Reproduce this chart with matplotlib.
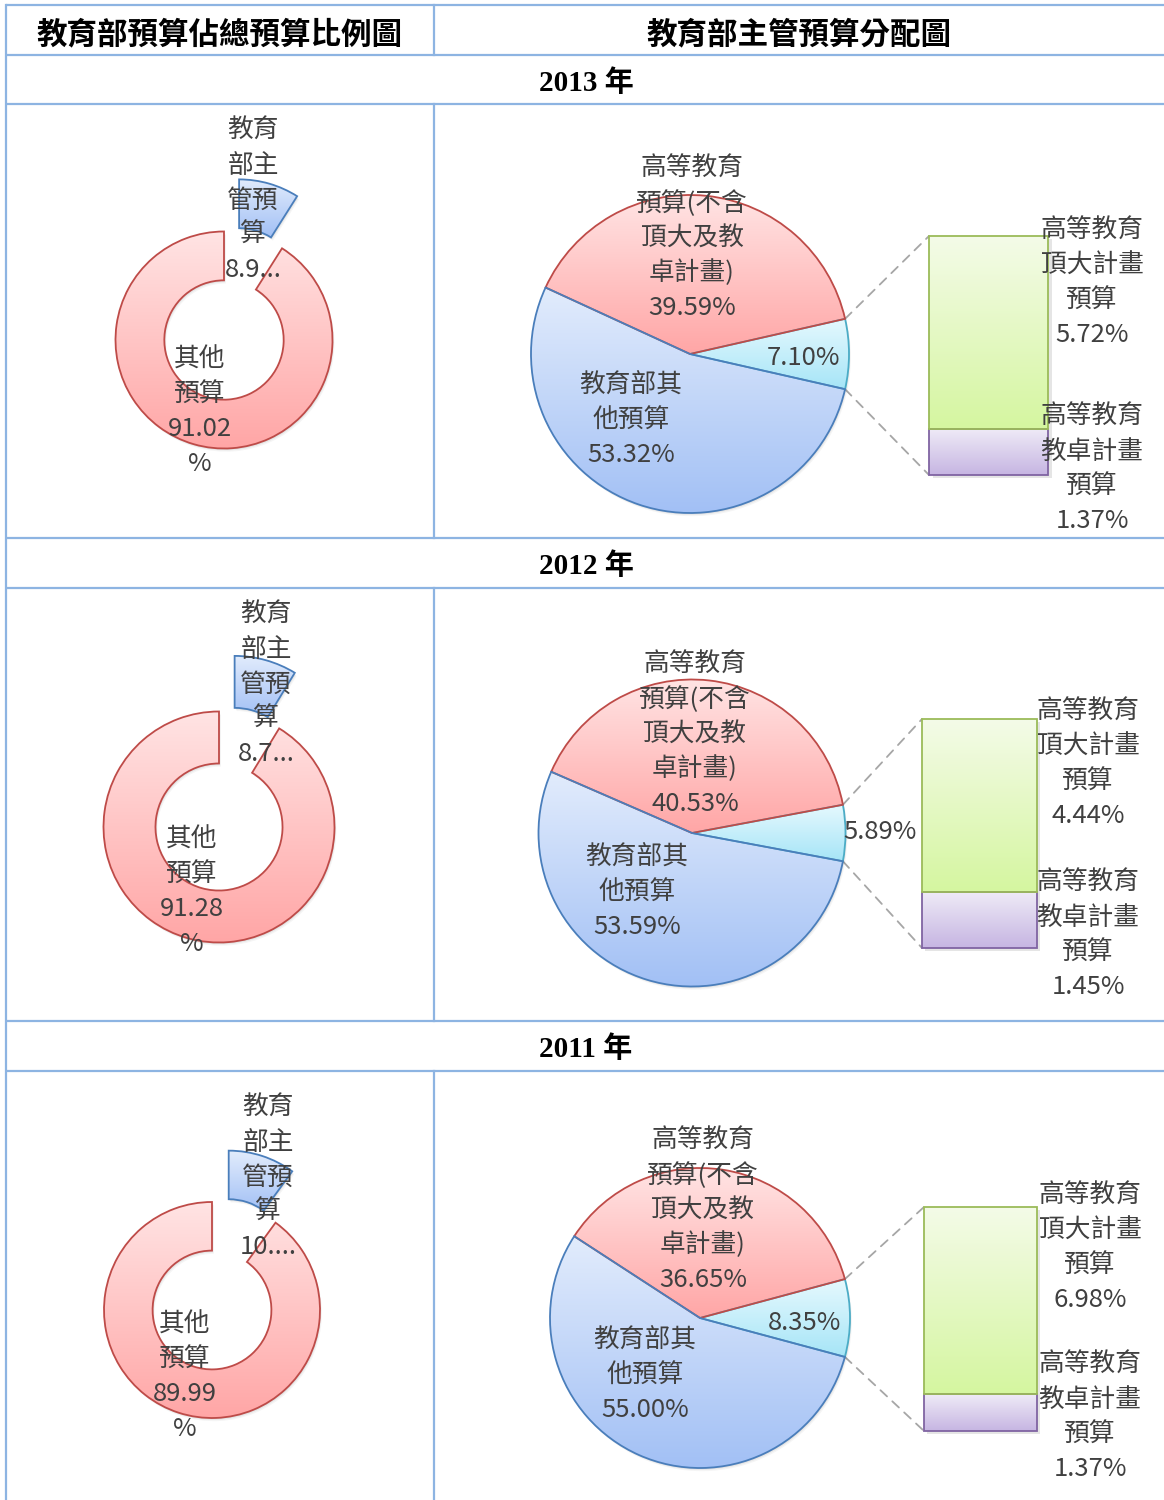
import numpy as np
import matplotlib
matplotlib.use("Agg")
import matplotlib.pyplot as plt
from matplotlib.colors import LinearSegmentedColormap
from matplotlib.patches import ConnectionPatch, PathPatch
from matplotlib.transforms import Affine2D

plt.rcParams['font.family'] = ['Noto Sans CJK TC', 'DejaVu Sans']

# ---------------- data ----------------
years = ["2013", "2012", "2011"]
moe_share = [8.98, 8.72, 10.01]        # 教育部主管預算 (% of total budget)
other_share = [91.02, 91.28, 89.99]    # 其他預算
higher_ed = [39.59, 40.53, 36.65]      # 高等教育預算(不含頂大及教卓計畫)
moe_other = [53.32, 53.59, 55.00]      # 教育部其他預算
higher_plan = [7.10, 5.89, 8.35]       # 頂大 + 教卓 (secondary slice)
top_univ = [5.72, 4.44, 6.98]          # 高等教育頂大計畫預算
teach_excel = [1.37, 1.45, 1.37]       # 高等教育教卓計畫預算

header_left = "教育部預算佔總預算比例圖"
header_right = "教育部主管預算分配圖"
donut_moe_rows = ["教育", "部主", "管預", "算"]
donut_other_rows = ["其他", "預算"]
pie_he_rows = ["高等教育", "預算(不含", "頂大及教", "卓計畫)"]
pie_other_rows = ["教育部其", "他預算"]
bar_top_rows = ["高等教育", "頂大計畫", "預算"]
bar_bot_rows = ["高等教育", "教卓計畫", "預算"]

# ---------------- layout (pixels) ----------------
W, H = 1164, 1500
DY = 3  # vertical text nudge
year_y = [80, 563, 1046]
donut_geo = [(224, 340, 108.5), (219, 827, 115.5), (212, 1310, 108)]
pie_geo = [(690, 354, 159), (692, 833, 153.5), (700, 1318, 150)]
bar_geo = [(929, 236, 1048, 475), (922, 719, 1037, 948), (924, 1207, 1037, 1431)]
donut_moe_lab = [(253, 128), (266, 612), (268, 1105)]
donut_oth_lab = [(200, 357), (192, 837), (185, 1322)]
pie_he_lab = [(692, 166), (695, 662), (703, 1138)]
pie_oth_lab = [(631, 383), (637, 855), (645, 1338)]
pie_plan_lab = [(803, 355), (880, 829), (805, 1320)]
bar_top_lab = [(1092, 228), (1088, 709), (1090, 1193)]
bar_bot_lab = [(1092, 414), (1088, 880), (1090, 1362)]
STEP = 34.7

RED = ('#FFE4E4', '#FFA6A6', '#BE4B48')
BLUE = ('#E2ECFC', '#A2C0F5', '#4A7EBB')
CYAN = ('#E6F9FE', '#A6E5F7', '#4BACC6')
GREEN = ('#F4FBE8', '#D5F6A0', '#9BBB59')
PURPLE = ('#EFEBF7', '#C6B5E2', '#8064A2')
TXT = '#404040'
GRID = '#8DB4E2'

fig = plt.figure(figsize=(W / 100, H / 100), dpi=100)
fig.patch.set_facecolor('white')


def ax_px(x0, y0, x1, y1, z=1):
    a = fig.add_axes([x0 / W, 1 - y1 / H, (x1 - x0) / W, (y1 - y0) / H], zorder=z)
    a.set_axis_off()
    return a


over = ax_px(0, 0, W, H, z=10)
over.set_xlim(0, W)
over.set_ylim(H, 0)


def gfill(ax, patch, style, lw=1.3):
    ctop, cbot, ec = style
    bb = patch.get_path().get_extents(patch.get_patch_transform())
    cmap = LinearSegmentedColormap.from_list('g', [ctop, cbot])
    im = ax.imshow(np.linspace(0, 1, 256)[:, None], cmap=cmap,
                   extent=[bb.x0, bb.x1, bb.y0, bb.y1], origin='upper',
                   aspect='auto', interpolation='bilinear',
                   zorder=patch.get_zorder() - 0.5)
    im.set_clip_path(patch)
    patch.set_facecolor('none')
    patch.set_edgecolor(ec)
    patch.set_linewidth(lw)


def shadow(ax, patch, unit):
    for k, a in [(1.0, 0.06), (2.0, 0.05), (3.2, 0.04)]:
        sp = PathPatch(patch.get_path(),
                       transform=patch.get_patch_transform()
                       + Affine2D().translate(k * unit * 0.6, -k * unit) + ax.transData,
                       fc='black', ec='none', alpha=a, zorder=patch.get_zorder() - 2)
        ax.add_patch(sp)


def rows(x, y0, texts, size=18.5, color=TXT):
    for k, t in enumerate(texts):
        over.text(x, y0 + DY + k * STEP, t, ha='center', va='center',
                  fontsize=size, color=color)


def trunc(v):
    s = f"{v:.2f}%"
    return s[:3] + "..."


# ---------------- table ----------------
for y in [5, 55, 104, 538, 588, 1021, 1071]:
    over.plot([6, W], [y, y], color=GRID, lw=1.6, solid_capstyle='butt')
over.plot([6, 6], [5, H], color=GRID, lw=1.6)
for y0, y1 in [(5, 55), (104, 538), (588, 1021), (1071, H)]:
    over.plot([434, 434], [y0, y1], color=GRID, lw=1.6)

over.text(219, 31 + DY, header_left, ha='center', va='center', fontsize=22,
          fontweight='bold', color='black')
over.text(799, 31 + DY, header_right, ha='center', va='center', fontsize=22,
          fontweight='bold', color='black')

for i, yr in enumerate(years):
    over.text(586, year_y[i] + DY, f"{yr} 年", ha='center', va='center', fontsize=21,
              fontweight='bold', color='black',
              family=['Liberation Serif', 'Noto Sans CJK TC'])

    # ---- donut ----
    cx, cy, r = donut_geo[i]
    s = 1.7
    ax = ax_px(cx - s * r, cy - s * r, cx + s * r, cy + s * r, z=2)
    wedges, _ = ax.pie([moe_share[i], other_share[i]], startangle=90,
                       counterclock=False, explode=[0.5, 0], radius=1,
                       wedgeprops=dict(width=0.45))
    for w, st in zip(wedges, [BLUE, RED]):
        shadow(ax, w, 1.0 / r)
        gfill(ax, w, st)
    ax.set_xlim(-s, s)
    ax.set_ylim(-s, s)
    x, y = donut_moe_lab[i]
    rows(x, y, donut_moe_rows + [trunc(moe_share[i])])
    x, y = donut_oth_lab[i]
    rows(x, y, donut_other_rows + [f"{other_share[i]:.2f}", "%"])

    # ---- pie ----
    cx, cy, r = pie_geo[i]
    s = 1.15
    axp = ax_px(cx - s * r, cy - s * r, cx + s * r, cy + s * r, z=2)
    pw, _ = axp.pie([higher_plan[i], higher_ed[i], moe_other[i]],
                    startangle=-higher_plan[i] * 1.8, counterclock=True, radius=1)
    for w, st in zip(pw, [CYAN, RED, BLUE]):
        shadow(axp, w, 1.0 / r)
        gfill(axp, w, st)
    axp.set_xlim(-s, s)
    axp.set_ylim(-s, s)
    x, y = pie_he_lab[i]
    rows(x, y, pie_he_rows + [f"{higher_ed[i]:.2f}%"])
    x, y = pie_oth_lab[i]
    rows(x, y, pie_other_rows + [f"{moe_other[i]:.2f}%"])
    x, y = pie_plan_lab[i]
    rows(x, y, [f"{higher_plan[i]:.2f}%"])

    # ---- bar of pie ----
    x0, y0, x1, y1 = bar_geo[i]
    axb = ax_px(x0, y0, x1, y1, z=2)
    total = teach_excel[i] + top_univ[i]
    b1 = axb.bar([0], [teach_excel[i]], width=1, bottom=[0], clip_on=False)
    b2 = axb.bar([0], [top_univ[i]], width=1, bottom=[teach_excel[i]], clip_on=False)
    axb.set_xlim(-0.5, 0.5)
    axb.set_ylim(0, total)
    for bar, st in [(b1[0], PURPLE), (b2[0], GREEN)]:
        gfill(axb, bar, st)
    # subtle drop shadow for bar stack
    axb.add_patch(plt.Rectangle((-0.5 + 0.03, -total * 0.012), 1.0, total,
                                transform=axb.transData, fc='black', ec='none',
                                alpha=0.10, zorder=-5, clip_on=False))
    x, y = bar_top_lab[i]
    rows(x, y, bar_top_rows + [f"{top_univ[i]:.2f}%"])
    x, y = bar_bot_lab[i]
    rows(x, y, bar_bot_rows + [f"{teach_excel[i]:.2f}%"])

    # ---- connector lines ----
    cw = pw[0]
    for theta, yb in [(cw.theta2, total), (cw.theta1, 0)]:
        xa, ya = np.cos(np.radians(theta)), np.sin(np.radians(theta))
        con = ConnectionPatch(xyA=(xa, ya), coordsA=axp.transData,
                              xyB=(-0.5, yb), coordsB=axb.transData,
                              color='#A6A6A6', lw=1.3, linestyle=(0, (5, 4)))
        fig.add_artist(con)

fig.savefig("out.png", dpi=100, facecolor='white')
